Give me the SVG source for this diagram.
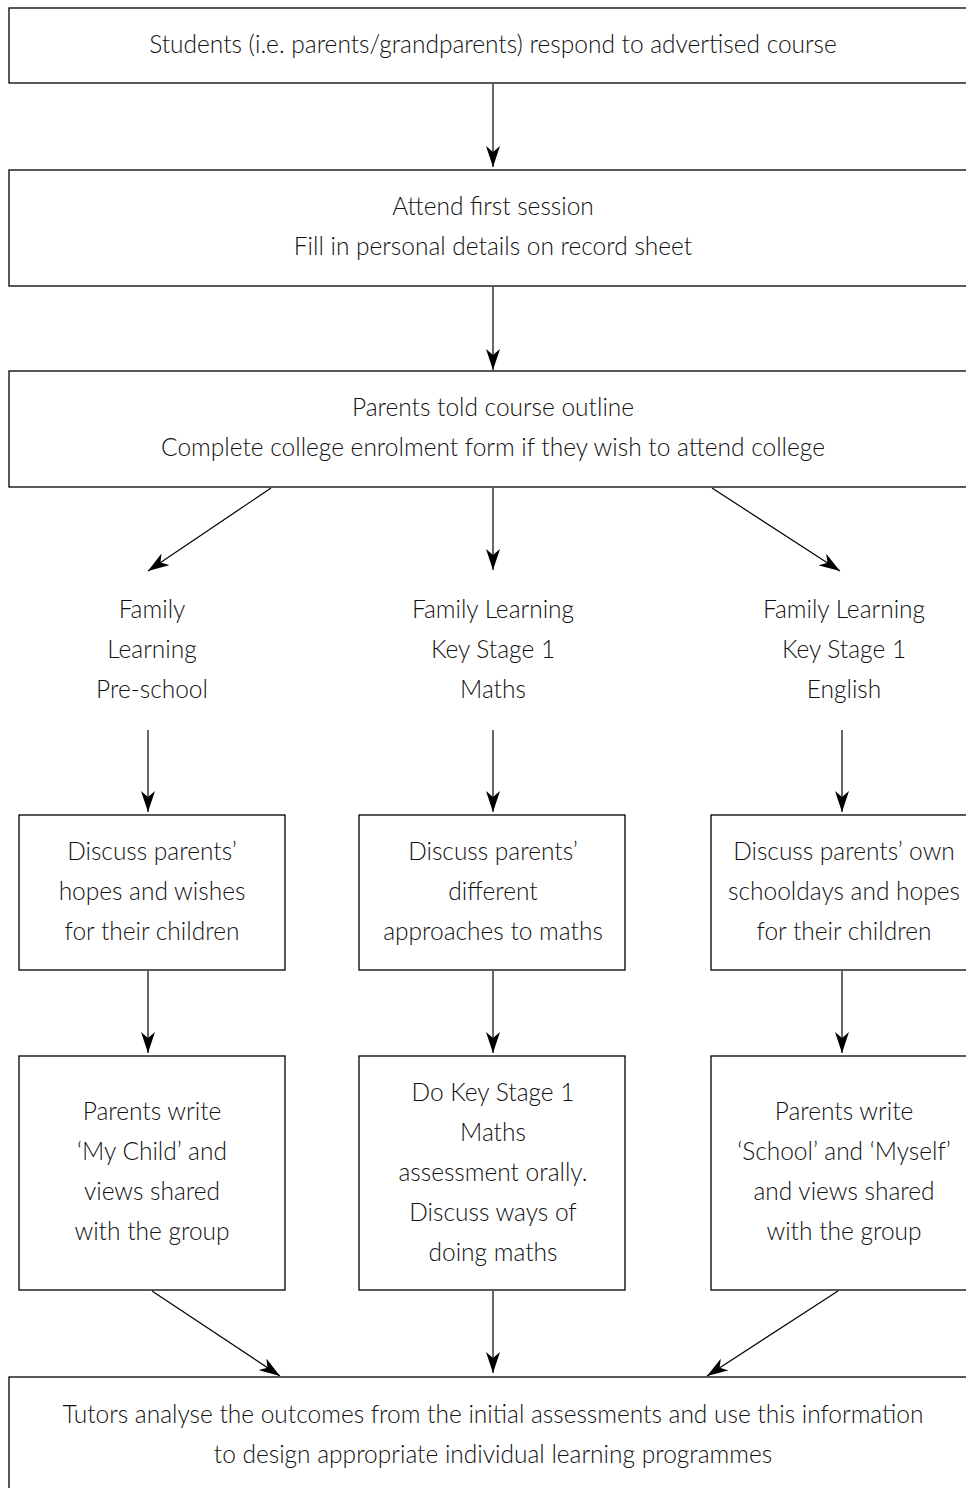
<svg xmlns="http://www.w3.org/2000/svg" width="966" height="1488" viewBox="0 0 966 1488">
  <style>
    .box { fill: #ffffff; stroke: #000000; stroke-width: 1.3; }
    .lbl { font-family: Lato, "Open Sans", "Liberation Sans", sans-serif; font-weight: 300; font-size: 24.5px; fill: #111111; text-anchor: middle; }
    .edge { stroke: #000000; stroke-width: 1.2; fill: none; marker-end: url(#arrow); }
  </style>
  <defs>
    <marker id="arrow" viewBox="0 0 21 14" refX="21" refY="7" markerWidth="21" markerHeight="14" markerUnits="userSpaceOnUse" orient="auto">
      <path d="M0,0 L21,7 L0,14 L6,7 z" fill="#000000"/>
    </marker>
  </defs>
  <rect width="966" height="1488" fill="#ffffff"/>

  <!-- connectors -->
  <g id="connectors">
    <line class="edge" x1="493" y1="84" x2="493" y2="167"/>
    <line class="edge" x1="493" y1="287" x2="493" y2="370"/>
    <line class="edge" x1="271" y1="488" x2="148" y2="571"/>
    <line class="edge" x1="493" y1="488" x2="493" y2="570"/>
    <line class="edge" x1="712" y1="488" x2="840" y2="571"/>
    <line class="edge" x1="148" y1="730" x2="148" y2="812"/>
    <line class="edge" x1="493" y1="730" x2="493" y2="812"/>
    <line class="edge" x1="842" y1="730" x2="842" y2="812"/>
    <line class="edge" x1="148" y1="971" x2="148" y2="1053"/>
    <line class="edge" x1="493" y1="971" x2="493" y2="1053"/>
    <line class="edge" x1="842" y1="971" x2="842" y2="1053"/>
    <line class="edge" x1="152" y1="1291" x2="280" y2="1376"/>
    <line class="edge" x1="493" y1="1291" x2="493" y2="1373"/>
    <line class="edge" x1="838" y1="1291" x2="707" y2="1376"/>
  </g>

  <g id="n-respond">
    <rect class="box" x="9" y="8" width="970" height="75"/>
    <text class="lbl" x="493" y="53">Students (i.e. parents/grandparents) respond to advertised course</text>
  </g>

  <g id="n-first-session">
    <rect class="box" x="9" y="170" width="970" height="116"/>
    <text class="lbl" x="493" y="215">Attend first session</text>
    <text class="lbl" x="493" y="255">Fill in personal details on record sheet</text>
  </g>

  <g id="n-outline">
    <rect class="box" x="9" y="371" width="970" height="116"/>
    <text class="lbl" x="493" y="416">Parents told course outline</text>
    <text class="lbl" x="493" y="456">Complete college enrolment form if they wish to attend college</text>
  </g>

  <g id="n-preschool">
    <text class="lbl" x="152" y="618">Family</text>
    <text class="lbl" x="152" y="658">Learning</text>
    <text class="lbl" x="152" y="698">Pre-school</text>
  </g>

  <g id="n-ks1-maths">
    <text class="lbl" x="493" y="618">Family Learning</text>
    <text class="lbl" x="493" y="658">Key Stage 1</text>
    <text class="lbl" x="493" y="698">Maths</text>
  </g>

  <g id="n-ks1-english">
    <text class="lbl" x="844" y="618">Family Learning</text>
    <text class="lbl" x="844" y="658">Key Stage 1</text>
    <text class="lbl" x="844" y="698">English</text>
  </g>

  <g id="n-hopes">
    <rect class="box" x="19" y="815" width="266" height="155"/>
    <text class="lbl" x="152" y="860">Discuss parents’</text>
    <text class="lbl" x="152" y="900">hopes and wishes</text>
    <text class="lbl" x="152" y="940">for their children</text>
  </g>

  <g id="n-approaches">
    <rect class="box" x="359" y="815" width="266" height="155"/>
    <text class="lbl" x="493" y="860">Discuss parents’</text>
    <text class="lbl" x="493" y="900">different</text>
    <text class="lbl" x="493" y="940">approaches to maths</text>
  </g>

  <g id="n-schooldays">
    <rect class="box" x="711" y="815" width="270" height="155"/>
    <text class="lbl" x="844" y="860">Discuss parents’ own</text>
    <text class="lbl" x="844" y="900">schooldays and hopes</text>
    <text class="lbl" x="844" y="940">for their children</text>
  </g>

  <g id="n-my-child">
    <rect class="box" x="19" y="1056" width="266" height="234"/>
    <text class="lbl" x="152" y="1120">Parents write</text>
    <text class="lbl" x="152" y="1160">‘My Child’ and</text>
    <text class="lbl" x="152" y="1200">views shared</text>
    <text class="lbl" x="152" y="1240">with the group</text>
  </g>

  <g id="n-assessment">
    <rect class="box" x="359" y="1056" width="266" height="234"/>
    <text class="lbl" x="493" y="1101">Do Key Stage 1</text>
    <text class="lbl" x="493" y="1141">Maths</text>
    <text class="lbl" x="493" y="1181">assessment orally.</text>
    <text class="lbl" x="493" y="1221">Discuss ways of</text>
    <text class="lbl" x="493" y="1261">doing maths</text>
  </g>

  <g id="n-school-myself">
    <rect class="box" x="711" y="1056" width="270" height="234"/>
    <text class="lbl" x="844" y="1120">Parents write</text>
    <text class="lbl" x="844" y="1160">‘School’ and ‘Myself’</text>
    <text class="lbl" x="844" y="1200">and views shared</text>
    <text class="lbl" x="844" y="1240">with the group</text>
  </g>

  <g id="n-tutors">
    <rect class="box" x="9" y="1377" width="970" height="120"/>
    <text class="lbl" x="493" y="1423">Tutors analyse the outcomes from the initial assessments and use this information</text>
    <text class="lbl" x="493" y="1463">to design appropriate individual learning programmes</text>
  </g>
</svg>
